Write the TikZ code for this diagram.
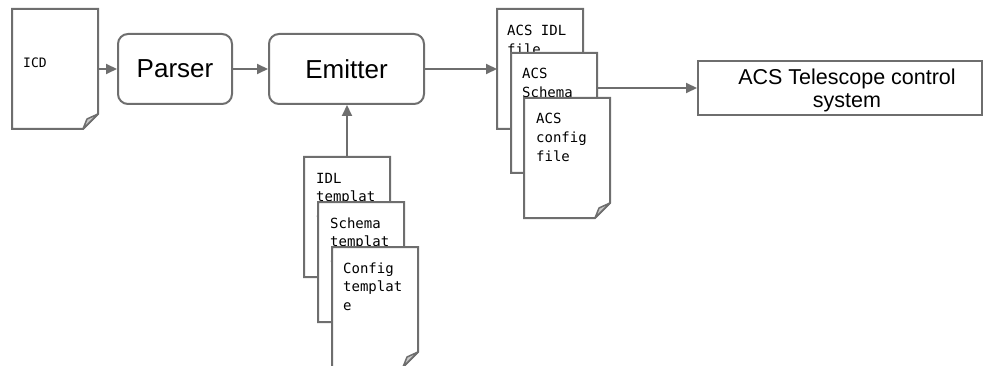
\documentclass[tikz,border=0pt]{standalone}
\usepackage{fontspec}
\setmainfont{Liberation Sans}
\newfontfamily\docmono{DejaVu Sans Mono}
\usetikzlibrary{arrows.meta}

\definecolor{edgegray}{HTML}{6E6E6E}
\definecolor{flapgray}{HTML}{C8C8C8}

\tikzset{
  procbox/.style={draw=edgegray, line width=2pt, rounded corners=10pt, fill=white,
    inner sep=0pt, font=\fontsize{26}{30}\selectfont},
  plainbox/.style={draw=edgegray, line width=2pt, fill=white, inner sep=0pt},
  docpage/.style={fill=white, draw=none, inner sep=0pt, outer sep=0pt,
    minimum width=86pt, minimum height=120pt, anchor=north west},
  % the base anchor of a multi-line node sits on its last line
  doctext/.style={font=\docmono\fontsize{14}{18.5}\selectfont, align=left,
    inner sep=0pt, anchor=base west},
  flow/.style={draw=edgegray, line width=2pt, -{Triangle[length=11pt,width=10pt]}},
}

% outline of a page with a folded lower-right corner, drawn round a docpage node
\newcommand\pageoutline[1]{%
  \draw[edgegray, line width=2pt, line join=miter]
    (#1.north west) -- (#1.north east) -- ([yshift=15pt]#1.south east)
    -- ([xshift=-15pt]#1.south east) -- (#1.south west) -- cycle;
  \filldraw[fill=flapgray, draw=edgegray, line width=1.5pt, line join=round]
    ([xshift=-15pt]#1.south east) -- ([yshift=15pt]#1.south east)
    -- ([xshift=-11pt,yshift=10pt]#1.south east) -- cycle;
}

\begin{document}
\begin{tikzpicture}[x=1pt, y=-1pt]
  \useasboundingbox (0,0) rectangle (984,366);

  % input specification
  \node[docpage] (icd) at (12,9) {};
  \pageoutline{icd}
  \node[doctext, font=\docmono\fontsize{13}{18}\selectfont] (icd-t) at ([shift={(11,59)}]icd.north west) {ICD};

  % processing stages
  \node[procbox, minimum width=114pt, minimum height=70pt] (parser) at (175,69) {Parser};
  \node[procbox, minimum width=155pt, minimum height=70pt] (emitter) at (346.5,69) {Emitter};

  % templates (three lines: last baseline 26 + 2*18.5 below the top)
  \node[docpage] (tplidl) at (304,157) {};
  \pageoutline{tplidl}
  \node[doctext] (tplidl-t) at ([shift={(12,63)}]tplidl.north west) {IDL\\templat\\e};

  \node[docpage] (tplschema) at (318,202) {};
  \pageoutline{tplschema}
  \node[doctext] (tplschema-t) at ([shift={(12,63)}]tplschema.north west) {Schema\\templat\\e};

  \node[docpage] (tplconfig) at (332,247) {};
  \pageoutline{tplconfig}
  \node[doctext] (tplconfig-t) at ([shift={(11,63)}]tplconfig.north west) {Config\\templat\\e};

  % generated files
  \node[docpage] (acsidl) at (497,9) {};
  \pageoutline{acsidl}
  \node[doctext] (acsidl-t) at ([shift={(10,45.5)}]acsidl.north west) {ACS IDL\\file};

  \node[docpage] (acsschema) at (511,53) {};
  \pageoutline{acsschema}
  \node[doctext] (acsschema-t) at ([shift={(11,63)}]acsschema.north west) {ACS\\Schema\\file};

  \node[docpage] (acsconfig) at (524,98) {};
  \pageoutline{acsconfig}
  \node[doctext] (acsconfig-t) at ([shift={(12,63)}]acsconfig.north west) {ACS\\config\\file};

  % target system
  \node[plainbox, minimum width=284pt, minimum height=54pt] (tcs) at (840,88) {};
  \node[font=\fontsize{21.5}{23}\selectfont, align=center, inner sep=0pt, anchor=base]
    (tcs-t) at (847,108) {ACS Telescope control\\system};

  % connectors
  \draw[flow] (icd.east |- parser.west) -- (parser.west);
  \draw[flow] (parser.east) -- (emitter.west);
  \draw[flow] (emitter.east) -- (acsidl.west |- emitter.east);
  \draw[flow] (tplidl.north) -- (tplidl.north |- emitter.south);
  \draw[flow] (acsschema.east |- tcs.west) -- (tcs.west);
\end{tikzpicture}
\end{document}
